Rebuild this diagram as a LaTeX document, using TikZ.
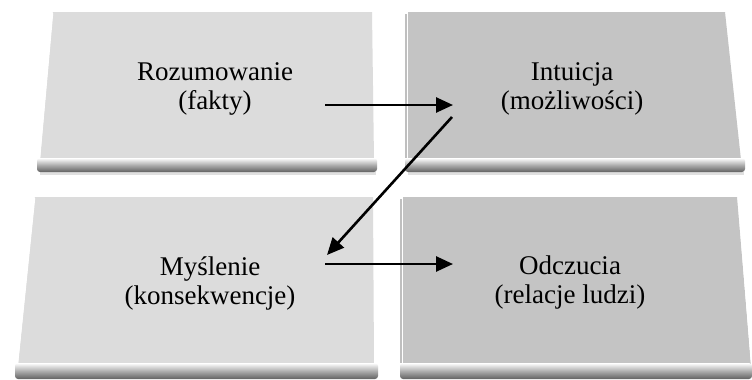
\documentclass[tikz,border=0pt]{standalone}
\usepackage{fontspec}
\setmainfont{Liberation Serif}
\usetikzlibrary{arrows.meta}
\definecolor{facel}{HTML}{DCDCDC}
\definecolor{facer}{HTML}{C4C4C4}
\begin{document}
\begin{tikzpicture}[x=1pt,y=-1pt,
  lbl/.style={align=center,font=\fontsize{27}{29}\selectfont,inner sep=0pt},
  conn/.style={line width=2.6pt,-{Triangle[length=17pt,width=15pt]}},
  bevel/.style={rounded corners=3pt,top color=white,bottom color=black!62,middle color=black!32},
  edgehl/.style={white,line width=2.5pt},
  shadowline/.style={black!12,line width=3pt}
]
\useasboundingbox[fill=white] (0,0) rectangle (752,380);
% top-left slab
\fill[facel] (53,12) -- (372,12) -- (374,160) -- (40,160) -- cycle;
\draw[edgehl] (52,13) -- (39,158);
\draw[edgehl] (375,14) -- (377,158);
\draw[shadowline] (40,173) -- (376,173);
\shade[bevel] (37,158) rectangle (377,172);
% top-right slab
\fill[facer] (408,12) -- (725,12) -- (741,160) -- (408,160) -- cycle;
\draw[edgehl] (727,13) -- (743,158);
\draw[black!25,line width=2pt] (406,14) -- (406,158);
\draw[shadowline] (408,173) -- (744,173);
\shade[bevel] (405,158) rectangle (745,172);
% bottom-left slab
\fill[facel] (35,197) -- (373,197) -- (374,365) -- (18,365) -- cycle;
\draw[edgehl] (34,198) -- (17,363);
\draw[edgehl] (376,199) -- (377,363);
\shade[bevel] (15,363) rectangle (378,379);
% bottom-right slab
\fill[facer] (403,197) -- (737,197) -- (751,365) -- (403,365) -- cycle;
\draw[edgehl] (739,198) -- (752,363);
\draw[black!25,line width=2pt] (401,199) -- (401,363);
\shade[bevel] (400,363) rectangle (752,379);
% labels
\node[lbl] (rozum) at (215,89) {Rozumowanie\\(fakty)};
\node[lbl] (intu) at (572,89) {Intuicja\\(możliwości)};
\node[lbl] (mysl) at (210,283) {Myślenie\\(konsekwencje)};
\node[lbl] (odcz) at (570,283) {Odczucia\\(relacje ludzi)};
% connector ends
\coordinate (a1s) at (325,105);
\coordinate (a1e) at (453,105);
\coordinate (a2s) at (452,117);
\coordinate (a2e) at (327,255);
\coordinate (a3s) at (325,264);
\coordinate (a3e) at (453,264);
\draw[conn] (a1s) -- (a1e);
\draw[conn] (a2s) -- (a2e);
\draw[conn] (a3s) -- (a3e);
\end{tikzpicture}
\end{document}
